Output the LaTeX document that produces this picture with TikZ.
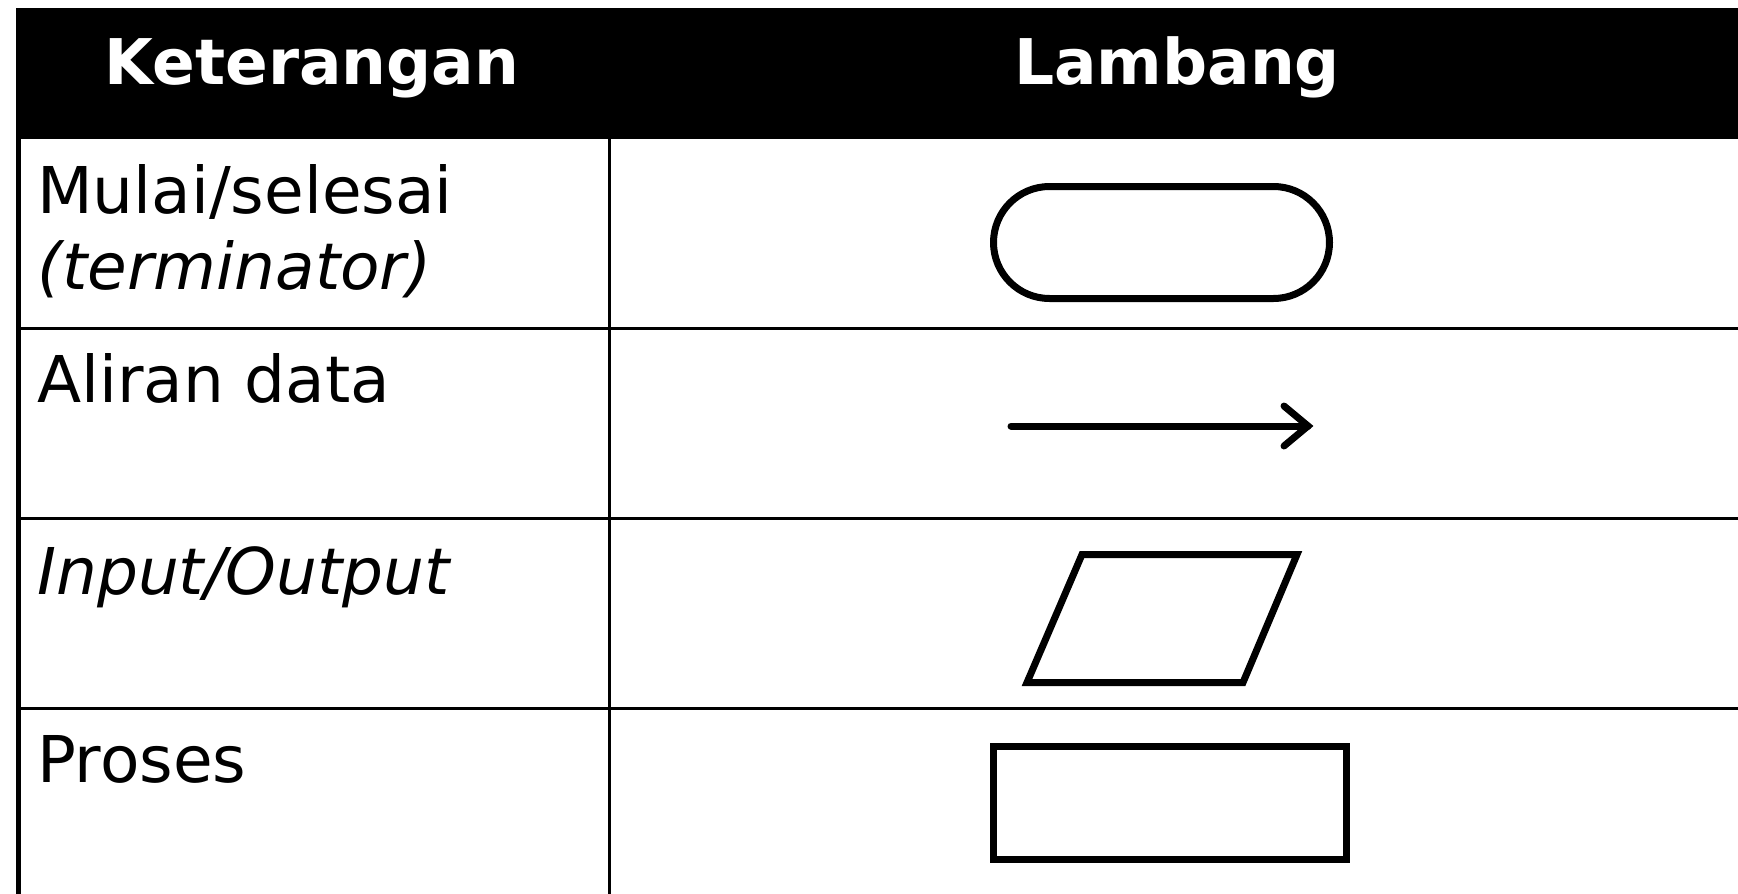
\documentclass[tikz,border=0pt]{standalone}
\usepackage{fontspec}
\setmainfont{DejaVu Sans}
\usepackage{tikz}

\begin{document}
\begin{tikzpicture}[x=1pt,y=-1pt,
		rule/.style={line width=2.5pt},
		symbol/.style={line width=7pt},
		head/.style={anchor=base,inner sep=0pt,text=white,font=\fontsize{63}{75}\selectfont\bfseries},
		entry/.style={anchor=base west,inner sep=0pt,font=\fontsize{64.5}{77}\selectfont}]
		\useasboundingbox (0,0) rectangle (1738,894);
		\fill (16,7.8) rectangle (1738,138.5);
		\node[head] (keterangan) at (312,84) {Keterangan};
		\node[head] (lambang) at (1177,84) {Lambang};
		\draw[rule] (16,328.5) -- (1738,328.5);
		\draw[rule] (16,518.5) -- (1738,518.5);
		\draw[rule] (16,708.5) -- (1738,708.5);
		\draw[line width=5pt] (18.5,138.5) -- (18.5,894);
		\draw[rule] (609.5,138.5) -- (609.5,894);
		\node[entry] (mulai) at (37,213) {Mulai/selesai};
		\node[entry] (terminator) at (37,289) {\itshape (terminator)};
		\node[entry] (aliran) at (37,402) {Aliran data};
		\node[entry] (inout) at (37,594) {\itshape Input/Output};
		\node[entry] (proses) at (37,782) {Proses};
		\draw[symbol,rounded corners=56pt] (993.5,186.5) rectangle (1329.5,298.5);
		\draw[symbol,line cap=round] (1011,426) -- (1308,426);
		\draw[symbol,line cap=round] (1284,406) -- (1308,426) -- (1284,446);
		\draw[symbol] (1082,554.5) -- (1297,554.5) -- (1243,682.5) -- (1027,682.5) -- cycle;
		\draw[symbol] (993.5,746.5) rectangle (1346.5,859.5);
	\end{tikzpicture}
\end{document}
